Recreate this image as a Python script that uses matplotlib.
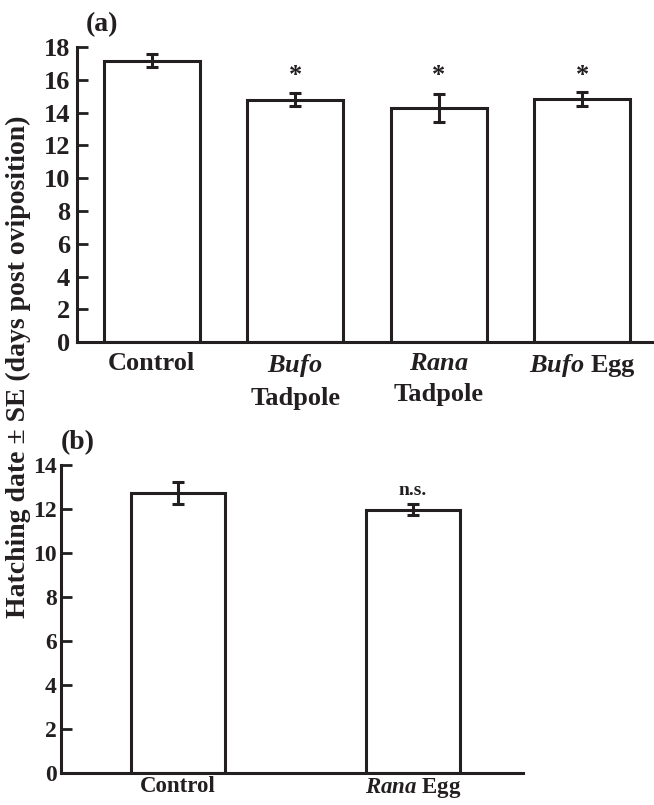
import matplotlib
matplotlib.use("Agg")
import matplotlib.pyplot as plt

# panel (a)
a_labels = ["Control", "$\\mathit{Bufo}$\nTadpole", "$\\mathit{Rana}$\nTadpole", "$\\mathit{Bufo}$ Egg"]
a_means = [17.18, 14.78, 14.30, 14.84]
a_se = [0.42, 0.40, 0.86, 0.43]
a_marks = ["", "*", "*", "*"]

# panel (b)
b_labels = ["Control", "$\\mathit{Rana}$ Egg"]
b_means = [12.72, 11.97]
b_se = [0.50, 0.26]
b_marks = ["", "n.s."]

ink = "#231f20"
plt.rcParams["font.family"] = "Liberation Serif"
plt.rcParams["font.weight"] = "bold"
plt.rcParams["mathtext.fontset"] = "custom"
plt.rcParams["mathtext.it"] = "Liberation Serif:italic:bold"
plt.rcParams["mathtext.rm"] = "Liberation Serif:bold"
plt.rcParams["mathtext.bf"] = "Liberation Serif:bold"

fig = plt.figure(figsize=(6.54, 8.05), dpi=100)
ax1 = fig.add_axes([0.118, 0.575, 0.882, 0.3665])
ax2 = fig.add_axes([0.093, 0.0394, 0.707, 0.383])


def style(ax, ymax, ysize, xsize, ypad, xpad):
    for s in ["top", "right"]:
        ax.spines[s].set_visible(False)
    for s in ["left", "bottom"]:
        ax.spines[s].set_linewidth(2.2)
        ax.spines[s].set_color(ink)
    ax.set_ylim(0, ymax)
    ax.set_yticks(range(0, ymax + 1, 2))
    ax.tick_params(axis="y", direction="in", length=8, width=2, color=ink,
                   labelsize=ysize, pad=ypad, labelcolor=ink)
    ax.tick_params(axis="x", length=0, labelsize=xsize, pad=xpad, labelcolor=ink)


# (a)
x = range(len(a_means))
ax1.bar(x, a_means, width=0.67, color="white", edgecolor=ink, linewidth=2.2)
ax1.errorbar(x, a_means, yerr=a_se, fmt="none", ecolor=ink, elinewidth=2.2,
             capsize=4.5, capthick=2.2)
for i, m in enumerate(a_marks):
    ax1.text(i, 15.55, m, ha="center", va="bottom", fontsize=19, color=ink)
ax1.set_xlim(-0.52, 3.5)
ax1.set_xticks(list(x))
ax1.set_xticklabels(a_labels, linespacing=1.45)
style(ax1, 18, 19, 19, 5, 7)
ax1.text(-0.46, 19.0, "(a)", fontsize=20, color=ink)

# (b)
x = range(len(b_means))
ax2.bar(x, b_means, width=0.4, color="white", edgecolor=ink, linewidth=2.2)
ax2.errorbar(x, b_means, yerr=b_se, fmt="none", ecolor=ink, elinewidth=2.2,
             capsize=4.5, capthick=2.2)
for i, m in enumerate(b_marks):
    ax2.text(i, 12.45, m, ha="center", va="bottom", fontsize=14, color=ink)
ax2.set_xlim(-0.5, 1.47)
ax2.set_xticks(list(x))
ax2.set_xticklabels(b_labels)
style(ax2, 14, 17, 16.5, 3, 2)
ax2.text(-0.5, 14.7, "(b)", fontsize=20, color=ink)

fig.text(0.028, 0.545, "Hatching date \u00b1 SE (days post oviposition)",
         rotation=90, ha="center", va="center", fontsize=20, color=ink)

fig.savefig("out.png", dpi=100)
